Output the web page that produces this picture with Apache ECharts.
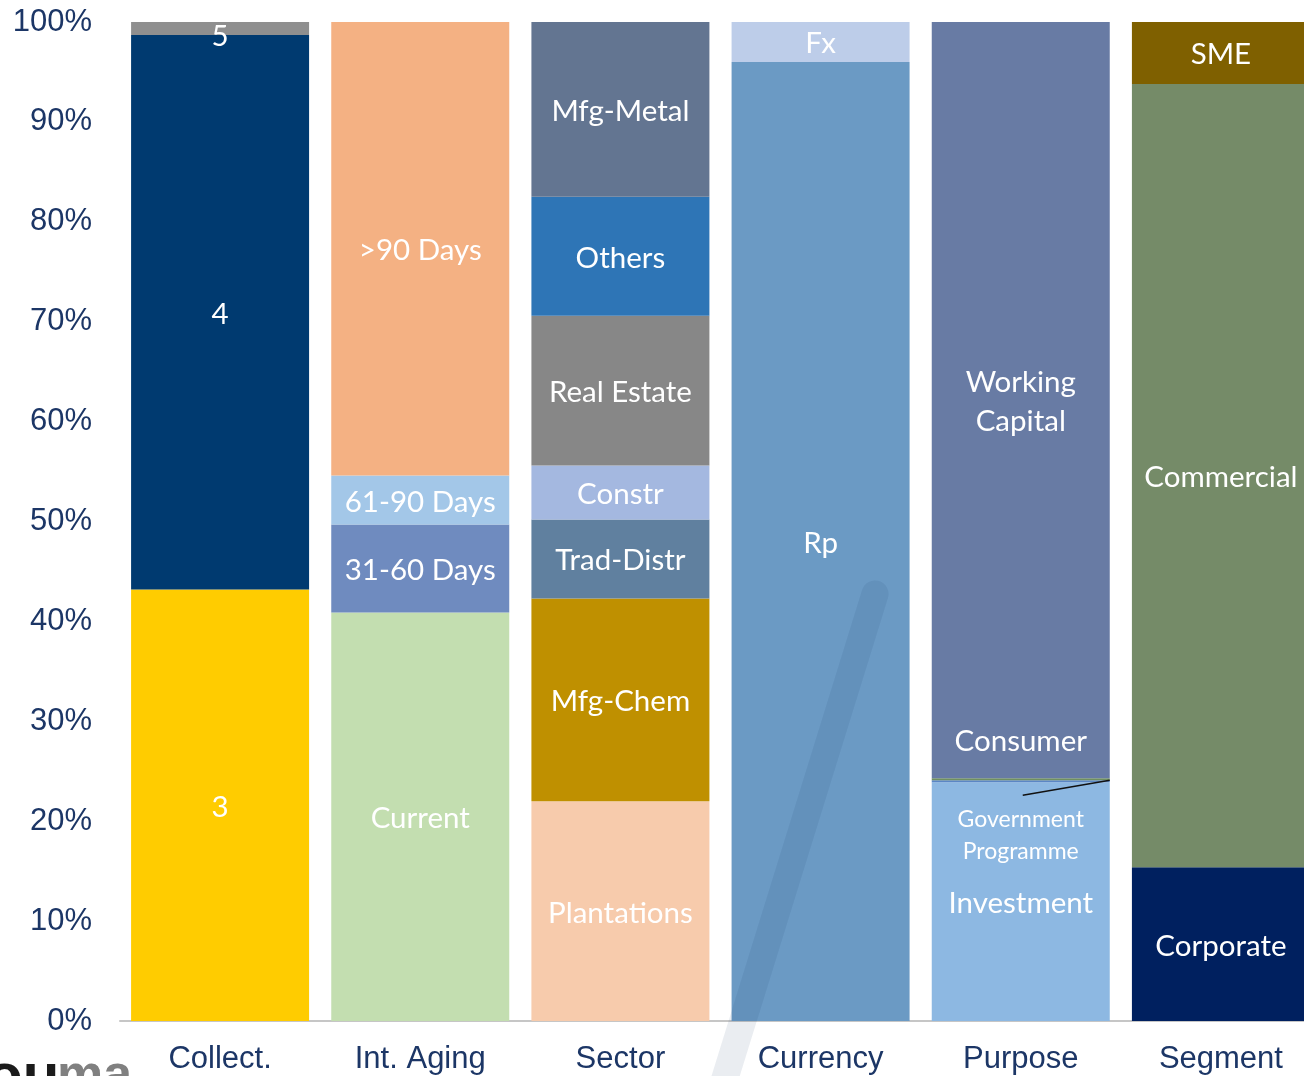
<!DOCTYPE html>
<html>
<head>
<meta charset="utf-8">
<script src="https://cdn.jsdelivr.net/npm/echarts@6/dist/echarts.min.js"></script>
<style>
  html, body { margin: 0; padding: 0; background: #fff; }
  #chart { width: 1304px; height: 1076px; }
</style>
</head>
<body>
<div id="chart"></div>
<script>
// categories on the x axis
const categories = ['Collect.', 'Int. Aging', 'Sector', 'Currency', 'Purpose', 'Segment'];

// segments of each bar, bottom to top (share in %)
const collectNames = ['3', '4', '5'];
const collectValues = [43.2, 55.5, 1.3];
const agingNames = ['Current', '31-60 Days', '61-90 Days', '>90 Days'];
const agingValues = [40.9, 8.8, 4.9, 45.4];
const sectorNames = ['Plantations', 'Mfg-Chem', 'Trad-Distr', 'Constr', 'Real Estate', 'Others', 'Mfg-Metal'];
const sectorValues = [22.0, 20.3, 7.9, 5.4, 15.0, 11.9, 17.5];
const currencyNames = ['Rp', 'Fx'];
const currencyValues = [96.0, 4.0];
const purposeNames = ['Investment', 'Government Programme', 'Consumer', 'Working Capital'];
const purposeValues = [23.9, 0.2, 0.2, 75.7];
const segmentNames = ['Corporate', 'Commercial', 'SME'];
const segmentValues = [15.4, 78.4, 6.2];

// colours, same order
const collectColors = ['#ffcc00', '#003a70', '#8f8f8f'];
const agingColors = ['#c3deb0', '#6f8bbf', '#a3c7e8', '#f4b183'];
const sectorColors = ['#f7cbac', '#bf9000', '#60809f', '#a4b8e0', '#878787', '#2e75b6', '#637591'];
const currencyColors = ['#6b9ac4', '#bdcde9'];
const purposeColors = ['#8db8e2', '#5b86c5', '#6f8f5f', '#687ba4'];
const segmentColors = ['#00205f', '#758b68', '#7f6000'];

const yTicks = { min: 0, max: 100, interval: 10 };

const bars = [
  [collectNames, collectValues, collectColors],
  [agingNames, agingValues, agingColors],
  [sectorNames, sectorValues, sectorColors],
  [currencyNames, currencyValues, currencyColors],
  [purposeNames, purposeValues, purposeColors],
  [segmentNames, segmentValues, segmentColors]
];

// labels that sit off-centre
const labelTweaks = {
  '5': { offset: [0, 8] },
  'Working Capital': { formatter: 'Working\nCapital', lineHeight: 39 },
  'Consumer': { position: 'top', distance: 22, offset: [0, 0] },
  'Government Programme': { position: 'bottom', distance: 21, formatter: 'Government\nProgramme', fontSize: 23, lineHeight: 32, offset: [0, 0] }
};

const labelFont = 'Lato, "Open Sans", sans-serif';
const axisFont = '"Liberation Sans", Arial, sans-serif';
const axisColor = '#1c3666';

let layers = 0;
bars.forEach(b => { layers = Math.max(layers, b[0].length); });

const series = [];
for (let k = 0; k < layers; k++) {
  series.push({
    type: 'bar',
    stack: 'total',
    barWidth: 178,
    silent: true,
    data: bars.map(b => {
      if (k >= b[0].length) return '-';
      const name = b[0][k];
      return {
        value: b[1][k],
        name: name,
        itemStyle: { color: b[2][k] },
        label: Object.assign({
          show: true,
          position: 'inside',
          offset: [0, 2],
          formatter: name,
          color: '#fff',
          fontFamily: labelFont,
          fontSize: 29.5
        }, labelTweaks[name] || {})
      };
    })
  });
}

const chart = echarts.init(document.getElementById('chart'));
chart.setOption({
  animation: false,
  grid: { left: 120, right: -17, top: 22, bottom: 55, containLabel: false, outerBoundsMode: 'none' },
  xAxis: {
    type: 'category',
    data: categories,
    axisTick: { show: false },
    axisLine: { lineStyle: { color: '#c6c6c6', width: 2 } },
    axisLabel: { color: axisColor, fontFamily: axisFont, fontSize: 31, margin: 23, interval: 0 }
  },
  yAxis: {
    type: 'value',
    min: yTicks.min,
    max: yTicks.max,
    interval: yTicks.interval,
    splitLine: { show: false },
    axisLine: { show: false },
    axisTick: { show: false },
    axisLabel: { color: axisColor, fontFamily: axisFont, fontSize: 31, margin: 28, formatter: '{value}%' }
  },
  series: series
});

// leader line for the thin Government Programme slice
const pIdx = categories.indexOf('Purpose');
const gTop = chart.convertToPixel({ xAxisIndex: 0, yAxisIndex: 0 }, [pIdx, purposeValues[0] + purposeValues[1]]);
const gLbl = chart.convertToPixel({ xAxisIndex: 0, yAxisIndex: 0 }, [pIdx, purposeValues[0] - 1.3]);

chart.setOption({
  graphic: [
    {
      type: 'line',
      z: 100,
      shape: { x1: gLbl[0] + 2, y1: gLbl[1], x2: gTop[0] + 89, y2: gTop[1] },
      style: { stroke: '#111', lineWidth: 1.5 }
    },
    // faint watermark stroke
    {
      type: 'line',
      z: 100,
      silent: true,
      shape: { x1: 875, y1: 594, x2: 712, y2: 1120 },
      style: { stroke: 'rgba(20,50,100,0.09)', lineWidth: 27, lineCap: 'round' }
    },
    // logo remnant at bottom left
    {
      type: 'text',
      left: -14,
      top: 1048,
      style: { text: 'ou', fill: '#1b1b1b', font: 'bold 60px "Liberation Sans", Arial, sans-serif' }
    },
    {
      type: 'text',
      left: 57,
      top: 1051,
      style: { text: 'ma', fill: '#808080', font: 'bold 52px "Liberation Sans", Arial, sans-serif' }
    }
  ]
});
</script>
</body>
</html>
